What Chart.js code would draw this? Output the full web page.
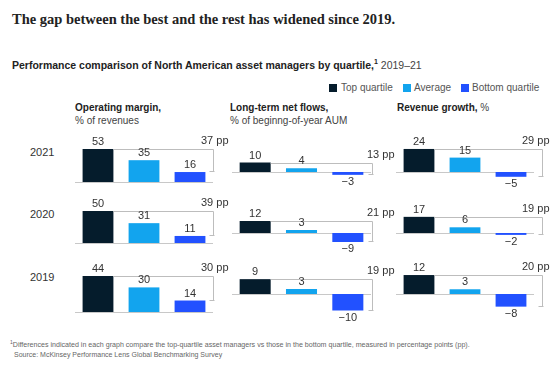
<!DOCTYPE html>
<html><head><meta charset="utf-8">
<script src="https://cdn.jsdelivr.net/npm/chart.js@4"></script>
<style>
body{margin:0;width:558px;height:370px;background:#fff;position:relative;overflow:hidden;font-family:"Liberation Sans",Arial,sans-serif;color:#222;}
.t{position:absolute;white-space:nowrap;line-height:1;}
canvas{position:absolute;}
.sq{position:absolute;width:8px;height:8px;}
</style></head><body>
<div class="t" style="left:12px;top:11px;font:bold 14.5px 'Liberation Serif',serif;color:#222;">The gap between the best and the rest has widened since 2019.</div>
<div class="t" style="left:12px;top:58px;font-size:10.5px;"><b>Performance comparison of North American asset managers by quartile,</b><sup style="font-size:7px;font-weight:bold">1</sup> <span style="color:#444">2019–21</span></div>
<div id="legend"></div>
<div class="t" style="left:75px;top:103px;font-size:10px;"><b>Operating margin,</b></div>
<div class="t" style="left:75px;top:116px;font-size:10px;color:#444">% of revenues</div>
<div class="t" style="left:230px;top:103px;font-size:10px;"><b>Long-term net flows,</b></div>
<div class="t" style="left:230px;top:116px;font-size:10px;color:#444">% of beginng-of-year AUM</div>
<div class="t" style="left:397px;top:103px;font-size:10px;"><b>Revenue growth,</b> <span style="color:#444">%</span></div>
<div id="rows"></div>
<div class="t" style="left:10px;top:340px;font-size:7.1px;color:#666"><sup style="font-size:5px">1</sup>Differences indicated in each graph compare the top-quartile asset managers vs those in the bottom quartile, measured in percentage points (pp).</div>
<div class="t" style="left:14px;top:351px;font-size:7px;color:#666">Source: McKinsey Performance Lens Global Benchmarking Survey</div>
<script>
// ---- data ----
const years = ['2021', '2020', '2019'];
const quartiles = ['Top quartile', 'Average', 'Bottom quartile'];
const operatingMargin = [[53, 35, 16], [50, 31, 11], [44, 30, 14]];
const netFlows = [[10, 4, -3], [12, 3, -9], [9, 3, -10]];
const revenueGrowth = [[24, 15, -5], [17, 6, -2], [12, 3, -8]];
const operatingMarginGap = [37, 39, 30];
const netFlowsGap = [13, 21, 19];
const revenueGrowthGap = [29, 19, 20];

// ---- styling / layout ----
const colors = ['#051c2c', '#12a4ee', '#2251ff'];
const series = [operatingMargin, netFlows, revenueGrowth];
const gaps = [operatingMarginGap, netFlowsGap, revenueGrowthGap];
const colLayout = [
  {left: 75, right: 213, bracket: 213, ppLeft: 201},
  {left: 232, right: 371, bracket: 372, ppLeft: 367},
  {left: 396, right: 534, bracket: 542, ppLeft: 522}
];
const rowLayout = [
  {top: 126, bottom: 192, base: [182, 172, 172], k: [0.623, 0.95, 0.96], labelY: 153},
  {top: 193, bottom: 258, base: [243, 233, 233], k: [0.64, 1.0, 0.95], labelY: 215},
  {top: 259, bottom: 326, base: [312, 294, 294], k: [0.82, 1.65, 1.58], labelY: 278}
];

// legend
const legendPos = [[329, 341], [403, 414], [461, 472]];
const lg = document.getElementById('legend');
quartiles.forEach((q, i) => {
  const s = document.createElement('div');
  s.className = 'sq';
  s.style.left = legendPos[i][0] + 'px'; s.style.top = '84px'; s.style.background = colors[i];
  lg.appendChild(s);
  const t = document.createElement('div');
  t.className = 't'; t.textContent = q;
  t.style.left = legendPos[i][1] + 'px'; t.style.top = '83px'; t.style.fontSize = '10px'; t.style.color = '#555';
  lg.appendChild(t);
});

const rowsDiv = document.getElementById('rows');
years.forEach((y, r) => {
  const t = document.createElement('div');
  t.className = 't'; t.textContent = y;
  t.style.left = '30px'; t.style.top = (rowLayout[r].labelY - 6) + 'px'; t.style.fontSize = '11px'; t.style.color = '#333';
  rowsDiv.appendChild(t);
});

const panelPlugin = {
  id: 'panel',
  beforeDatasetsDraw(chart) {
    const ctx = chart.ctx, a = chart.chartArea, ys = chart.scales.y;
    const y0 = Math.round(ys.getPixelForValue(0)) + 0.5;
    ctx.save();
    ctx.strokeStyle = '#c8c8c8'; ctx.lineWidth = 1;
    ctx.beginPath(); ctx.moveTo(a.left, y0); ctx.lineTo(a.right, y0); ctx.stroke();
    ctx.restore();
  },
  afterDatasetsDraw(chart, args, opts) {
    const ctx = chart.ctx, ys = chart.scales.y;
    const vals = chart.data.datasets[0].data;
    const bars = chart.getDatasetMeta(0).data;
    ctx.save();
    // bracket
    const yTop = Math.round(ys.getPixelForValue(vals[0])) + 0.5;
    const yBot = Math.round(ys.getPixelForValue(vals[2])) - 0.5;
    const xB = Math.round(opts.bracketX) + 0.5;
    ctx.strokeStyle = '#bdbdbd'; ctx.lineWidth = 1;
    ctx.beginPath();
    ctx.moveTo(bars[0].x + bars[0].width / 2, yTop); ctx.lineTo(xB, yTop);
    ctx.moveTo(xB, yTop); ctx.lineTo(xB, yBot);
    ctx.moveTo(xB - 4, yBot); ctx.lineTo(xB + 1, yBot);
    ctx.stroke();
    // value labels
    ctx.fillStyle = '#333'; ctx.font = "11px 'Liberation Sans', Arial, sans-serif";
    ctx.textAlign = 'center'; ctx.textBaseline = 'middle';
    bars.forEach((b, i) => {
      const v = vals[i];
      const txt = v < 0 ? '\u2212' + Math.abs(v) : String(v);
      ctx.fillText(txt, b.x, v >= 0 ? b.y - 7 : b.y + 7);
    });
    // gap label
    ctx.textAlign = 'left';
    ctx.fillText(opts.gap + ' pp', opts.ppX, yTop - 9);
    ctx.restore();
  }
};

series.forEach((ser, c) => {
  const cl = colLayout[c];
  years.forEach((yr, r) => {
    const rl = rowLayout[r];
    const cLeft = cl.left - 8;
    const w = cl.bracket + 40 - cLeft;
    const h = rl.bottom - rl.top;
    const cv = document.createElement('canvas');
    cv.width = w; cv.height = h;
    cv.style.left = cLeft + 'px'; cv.style.top = rl.top + 'px';
    cv.style.width = w + 'px'; cv.style.height = h + 'px';
    document.body.appendChild(cv);
    const base = rl.base[c], k = rl.k[c];
    new Chart(cv, {
      type: 'bar',
      data: {
        labels: quartiles,
        datasets: [{
          data: ser[r],
          backgroundColor: colors,
          borderWidth: 0,
          barPercentage: 1,
          categoryPercentage: 0.67
        }]
      },
      options: {
        responsive: false,
        animation: false,
        devicePixelRatio: 1,
        layout: {padding: {left: 8, right: w - 8 - (cl.right - cl.left), top: 0, bottom: 0}},
        scales: {
          x: {display: false},
          y: {display: false, min: -(rl.bottom - base) / k, max: (base - rl.top) / k}
        },
        plugins: {
          legend: {display: false},
          tooltip: {enabled: false},
          panel: {bracketX: cl.bracket - cLeft, ppX: cl.ppLeft - cLeft, gap: gaps[c][r]}
        }
      },
      plugins: [panelPlugin]
    });
  });
});
</script>
</body></html>
